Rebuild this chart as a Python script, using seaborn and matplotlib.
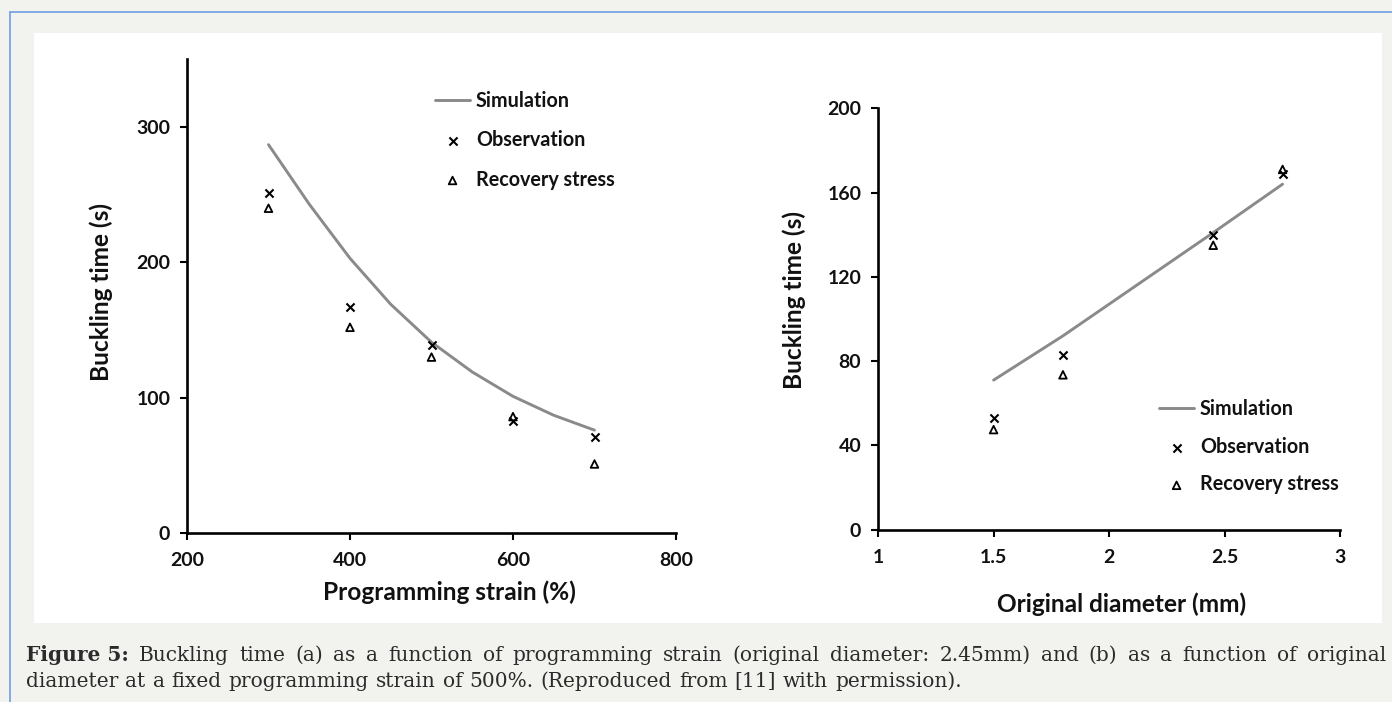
import matplotlib
matplotlib.use("Agg")
import matplotlib.pyplot as plt
import seaborn as sns
from matplotlib.patches import Rectangle
from matplotlib.lines import Line2D

# ---------------- data ----------------
strain_sim = [300, 350, 400, 450, 500, 550, 600, 650, 700]
time_sim_a = [287, 243, 203, 169, 141, 119, 101, 87, 76]
strain_pts = [300, 400, 500, 600, 700]
obs_a = [251, 167, 139, 83, 71]
rec_a = [240, 152, 130, 86, 51]

diam_sim = [1.5, 1.8, 2.45, 2.75]
time_sim_b = [71, 92, 141, 164]
diam_pts = [1.5, 1.8, 2.45, 2.75]
obs_b = [53, 83, 140, 169]
rec_b = [47.5, 73.5, 135, 171]

xticks_a = [200, 400, 600, 800]
yticks_a = [0, 100, 200, 300]
xticks_b = [1, 1.5, 2, 2.5, 3]
xticklabels_b = ["1", "1.5", "2", "2.5", "3"]
yticks_b = [0, 40, 80, 120, 160, 200]

legend_labels = ["Simulation", "Observation", "Recovery stress"]
xlabel_a = "Programming strain (%)"
xlabel_b = "Original diameter (mm)"
ylabel = "Buckling time (s)"
caption_bold = "Figure 5:"
caption_line1 = ("Buckling time (a) as a function of programming strain "
                 "(original diameter: 2.45mm) and (b) as a function of original")
caption_line2 = ("diameter at a fixed programming strain of 500%. "
                 "(Reproduced from [11] with permission).")

# ---------------- style ----------------
sns.set_theme(style="white")
plt.rcParams["font.family"] = ["Lato", "DejaVu Sans"]
plt.rcParams["font.weight"] = "bold"

W, H = 1392, 702
fig = plt.figure(figsize=(W / 100, H / 100), dpi=100)
fig.patch.set_facecolor("#f2f2ee")

# white panel and blue frame lines
fig.add_artist(Rectangle((34 / W, 1 - 623 / H), (1382 - 34) / W, (623 - 33) / H,
                         transform=fig.transFigure, facecolor="white",
                         edgecolor="none", zorder=-5))
fig.add_artist(Line2D([10 / W, 1], [1 - 12 / H, 1 - 12 / H], transform=fig.transFigure,
                      color="#6d9de3", lw=1.2, zorder=-4))
fig.add_artist(Line2D([10 / W, 10 / W], [1 - 12 / H, 0], transform=fig.transFigure,
                      color="#6d9de3", lw=1.2, zorder=-4))

ax1 = fig.add_axes([187 / W, 1 - 533 / H, (676 - 187) / W, (533 - 59.4) / H])
ax2 = fig.add_axes([878 / W, 1 - 529.7 / H, (1340.4 - 878) / W, (529.7 - 108.3) / H])

sim_color = "#8a8a8a"
text_color = "#111111"


def draw(ax, xs, ys, xp, obs, rec):
    sns.lineplot(x=xs, y=ys, ax=ax, color=sim_color, lw=2.1, label=legend_labels[0])
    sns.scatterplot(x=xp, y=obs, ax=ax, marker="x", color="black", s=34,
                    linewidth=1.5, label=legend_labels[1], zorder=3)
    sns.scatterplot(x=xp, y=rec, ax=ax, marker="^", color="black", facecolor="none",
                    edgecolor="black", s=30, linewidth=1.3, label=legend_labels[2],
                    zorder=3)
    for side in ["top", "right"]:
        ax.spines[side].set_visible(False)
    for side in ["left", "bottom"]:
        ax.spines[side].set_color("black")
        ax.spines[side].set_linewidth(1.9)
    ax.tick_params(axis="both", direction="out", length=5, width=1.5, color="black",
                   labelsize=14, labelcolor=text_color, left=True, bottom=True)
    ax.tick_params(axis="y", pad=7)
    ax.tick_params(axis="x", pad=9)
    ax.set_facecolor("white")


draw(ax1, strain_sim, time_sim_a, strain_pts, obs_a, rec_a)
ax1.set_xlim(200, 800)
ax1.set_ylim(0, 350)
ax1.set_xticks(xticks_a)
ax1.set_yticks(yticks_a)

draw(ax2, diam_sim, time_sim_b, diam_pts, obs_b, rec_b)
ax2.set_xlim(1, 3)
ax2.set_ylim(0, 200)
ax2.set_xticks(xticks_b)
ax2.set_xticklabels(xticklabels_b)
ax2.set_yticks(yticks_b)

for ax in (ax1, ax2):
    for lab in ax.get_xticklabels() + ax.get_yticklabels():
        lab.set_fontweight("bold")

# axis labels
lab_fs = 17.6
ax1.set_xlabel(xlabel_a, fontsize=lab_fs, fontweight="bold", color=text_color)
ax1.xaxis.set_label_coords((449.5 - 187) / 489, (533 - 592.7) / 473.6)
ax1.xaxis.label.set_va("center")
ax1.set_ylabel(ylabel, fontsize=lab_fs, fontweight="bold", color=text_color)
ax1.yaxis.set_label_coords((101 - 187) / 489, (533 - 292) / 473.6)
ax1.yaxis.label.set_va("center")

ax2.set_xlabel(xlabel_b, fontsize=lab_fs, fontweight="bold", color=text_color)
ax2.xaxis.set_label_coords((1122 - 878) / 462.4, (529.7 - 604) / 421.4)
ax2.xaxis.label.set_va("center")
ax2.set_ylabel(ylabel, fontsize=lab_fs, fontweight="bold", color=text_color)
ax2.yaxis.set_label_coords((794 - 878) / 462.4, (529.7 - 300) / 421.4)
ax2.yaxis.label.set_va("center")

# legends
leg_kw = dict(frameon=False, fontsize=14.2, handlelength=1.78, handletextpad=0.3,
              borderpad=0, borderaxespad=0, loc="upper left", scatterpoints=1)
l1 = ax1.legend(bbox_to_anchor=(435 / W, 1 - 91 / H),
                bbox_transform=fig.transFigure, labelspacing=0.98, **leg_kw)
l2 = ax2.legend(bbox_to_anchor=(1159 / W, 1 - 399 / H),
                bbox_transform=fig.transFigure, labelspacing=0.9, **leg_kw)
for leg in (l1, l2):
    for t in leg.get_texts():
        t.set_fontweight("bold")
        t.set_color(text_color)

# caption (justified first line)
renderer = fig.canvas.get_renderer()
cap_fs = 14.5
cap_color = "#2b2b2b"
x0, x1 = 26, 1386


def place_line(words, base_y, justify):
    arts = []
    widths = []
    for w, weight in words:
        t = fig.text(0, 1 - base_y / H, w, fontsize=cap_fs, family="DejaVu Serif",
                     weight=weight, color=cap_color, va="baseline", ha="left")
        arts.append(t)
        widths.append(t.get_window_extent(renderer).width)
    probe = fig.text(0, 0, "a a", fontsize=cap_fs, family="DejaVu Serif")
    probe2 = fig.text(0, 0, "aa", fontsize=cap_fs, family="DejaVu Serif")
    space = probe.get_window_extent(renderer).width - probe2.get_window_extent(renderer).width
    probe.remove()
    probe2.remove()
    if justify:
        gap = (x1 - x0 - sum(widths)) / (len(words) - 1)
    else:
        gap = space
    x = x0
    for t, w in zip(arts, widths):
        t.set_x(x / W)
        x += w + gap


line1_words = [(caption_bold, "bold")] + [(w, "normal") for w in caption_line1.split()]
line2_words = [(w, "normal") for w in caption_line2.split()]
place_line(line1_words, 661, True)
place_line(line2_words, 687, False)

fig.savefig("out.png", dpi=100, facecolor=fig.get_facecolor())
